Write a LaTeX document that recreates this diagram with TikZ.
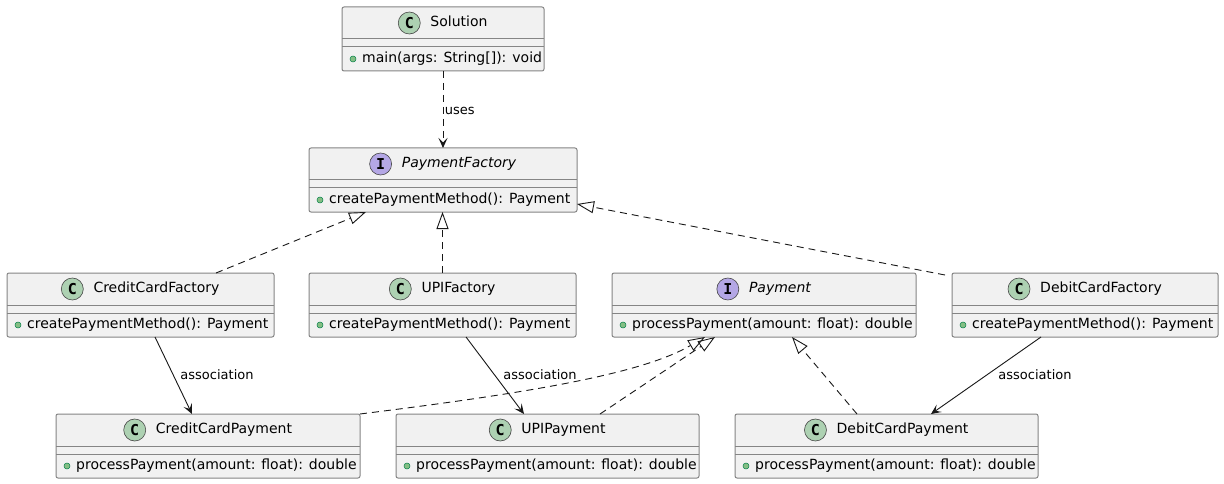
\documentclass[tikz,border=0pt]{standalone}
\usepackage{fontspec}
\setmainfont{DejaVu Sans}
\newfontfamily\iconfont{DejaVu Sans Mono}
\usetikzlibrary{arrows.meta}
\definecolor{boxfill}{HTML}{F1F1F1}
\definecolor{boxline}{HTML}{858585}
\definecolor{ink}{HTML}{181818}
\definecolor{classspot}{HTML}{ADD1B2}
\definecolor{ifacespot}{HTML}{B4A7E5}
\definecolor{dotfill}{HTML}{84BE84}
\definecolor{dotline}{HTML}{038048}
\tikzset{
  umlbox/.style={draw=boxline, line width=1pt, fill=boxfill, rounded corners=2pt, inner sep=0pt, outer sep=0pt, minimum height=64pt},
  sepline/.style={draw=boxline, line width=1pt},
  titletext/.style={inner sep=0pt, text height=10pt, text depth=3pt, font=\fontsize{14}{16}\selectfont},
  methodtext/.style={inner sep=0pt, text height=10pt, text depth=3pt, font=\fontsize{14}{16}\selectfont},
  iconstyle/.style={circle, draw=ink!80, line width=0.6pt, minimum size=22pt, inner sep=0pt, font=\iconfont\bfseries\fontsize{15}{16}\selectfont},
  dotstyle/.style={circle, draw=dotline, fill=dotfill, line width=0.5pt, minimum size=6pt, inner sep=0pt},
  conn/.style={draw=ink, line width=0.9pt},
  dashline/.style={conn, dash pattern=on 7pt off 5pt},
  realize/.style={dashline, -{Triangle[open, length=17pt, width=12pt]}},
  assoc/.style={conn, -{Stealth[length=10pt, width=9pt, inset=4.5pt]}},
  depend/.style={dashline, -{Stealth[length=10pt, width=9pt, inset=4.5pt]}},
  lbl/.style={inner sep=0pt, text height=9pt, text depth=2pt, font=\fontsize{13}{15}\selectfont, anchor=west}
}
% #1 name, #2 left, #3 top, #4 right, #5 icon letter, #6 icon colour, #7 title, #8 method
\newcommand{\umlclassbox}[8]{%
  \node[umlbox, minimum width={(#4)-(#2)}] (#1) at ({((#2)+(#4))/2},{(#3)+32}) {};
  \draw[sepline] (#2,{(#3)+32}) -- (#4,{(#3)+32});
  \draw[sepline] (#2,{(#3)+40}) -- (#4,{(#3)+40});
  \node[titletext] (#1t) at ({((#2)+(#4))/2},{(#3)+16}) {\hspace{32pt}#7};
  \node[iconstyle, fill=#6] (#1i) at ([xshift=11pt]#1t.west) {#5};
  \node[dotstyle] (#1d) at ({(#2)+11},{(#3)+52}) {};
  \node[methodtext, anchor=west] (#1m) at ({(#2)+20},{(#3)+52}) {#8};
}
\begin{document}
\begin{tikzpicture}[x=1pt,y=-1pt]
\fill[white] (0,0) rectangle (1224,484);
\useasboundingbox (0,0) rectangle (1224,484);

\umlclassbox{sol}{342}{7}{544}{C}{classspot}{Solution}{main(args: String[]): void}
\umlclassbox{pf}{309}{148}{577}{I}{ifacespot}{\itshape PaymentFactory}{createPaymentMethod(): Payment}
\umlclassbox{ccf}{7}{273}{274}{C}{classspot}{CreditCardFactory}{createPaymentMethod(): Payment}
\umlclassbox{upif}{309}{273}{576}{C}{classspot}{UPIFactory}{createPaymentMethod(): Payment}
\umlclassbox{pay}{612}{273}{916}{I}{ifacespot}{\itshape Payment}{processPayment(amount: float): double}
\umlclassbox{dcf}{952}{273}{1218}{C}{classspot}{DebitCardFactory}{createPaymentMethod(): Payment}
\umlclassbox{ccp}{56}{414}{360}{C}{classspot}{CreditCardPayment}{processPayment(amount: float): double}
\umlclassbox{upip}{396}{414}{699}{C}{classspot}{UPIPayment}{processPayment(amount: float): double}
\umlclassbox{dcp}{735}{414}{1038}{C}{classspot}{DebitCardPayment}{processPayment(amount: float): double}

% uses
\draw[depend] (sol.south) -- node[lbl, midway, xshift=1.5pt, yshift=-2pt] (usesl) {uses} (pf.north);

% realizations of PaymentFactory
\draw[realize] ([xshift=75.5pt]ccf.north) -- ([xshift=-77pt]pf.south);
\draw[realize] (upif.north) -- (upif.north |- pf.south);
\draw[realize] ([xshift=-7pt,yshift=-2pt]dcf.north west) -- ([yshift=8pt]pf.south east);

% associations
\draw[assoc] ([xshift=14.5pt]ccf.south) -- node[lbl, midway, xshift=6.5pt] (a1) {association} ([xshift=-16pt]ccp.north);
\draw[assoc] ([xshift=23.5pt]upif.south) -- node[lbl, midway, xshift=8pt] (a2) {association} ([xshift=-23.5pt]upip.north);
\draw[assoc] ([xshift=-44pt]dcf.south) -- node[lbl, midway, xshift=12pt] (a3) {association} ([xshift=44.5pt]dcp.north);

% realizations of Payment
\draw[realize] (ccp.north east) .. controls +(160,-20) and +(-65,38) .. ([xshift=-59pt]pay.south);
\draw[realize] ([xshift=52.5pt]upip.north) -- ([xshift=-49pt]pay.south);
\draw[realize] ([xshift=-29.5pt]dcp.north) -- ([xshift=28pt]pay.south);
\end{tikzpicture}
\end{document}
